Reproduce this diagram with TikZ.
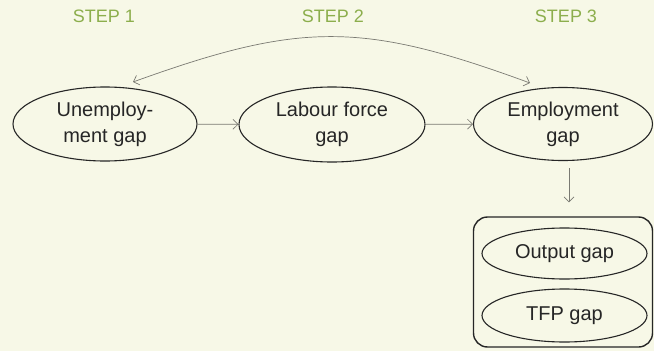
\documentclass[tikz,border=0pt]{standalone}
\usepackage{fontspec}
\setmainfont{Liberation Sans}
\usetikzlibrary{shapes.geometric,arrows.meta}
\definecolor{bgcream}{HTML}{F7F8E7}
\definecolor{stepgreen}{HTML}{8CAE4C}
\definecolor{textgrey}{HTML}{262626}
\definecolor{arrowgrey}{HTML}{7A7A72}
\begin{document}
\begin{tikzpicture}[x=1pt,y=-1pt,
    gapnode/.style={ellipse,draw=black!85,line width=1.1pt,inner sep=0pt,align=center,
      text=textgrey,font=\fontsize{20}{26}\selectfont},
    steplabel/.style={text=stepgreen,font=\fontsize{18}{20}\selectfont},
    link/.style={draw=arrowgrey,line width=0.7pt,-{Straight Barb[length=5pt,width=10pt]}}]
  \fill[bgcream] (0,0) rectangle (654,351);
  \useasboundingbox (0,0) rectangle (654,351);
  \draw
    (104,16.5) node[steplabel] (step1){STEP 1}
    (333,16.5) node[steplabel] (step2){STEP 2}
    (566,16.5) node[steplabel] (step3){STEP 3}
    (105,124) node[gapnode,minimum width=184pt,minimum height=74pt] (unemp){Unemploy-\\ment gap}
    (332,124.5) node[gapnode,minimum width=186pt,minimum height=75pt] (labour){Labour force\\gap}
    (563,124) node[gapnode,minimum width=179pt,minimum height=73pt] (emp){Employment\\gap}
    (563,282) node[draw=black!85,line width=1.4pt,rounded corners=14pt,
      minimum width=179pt,minimum height=130pt] (gapbox){}
    (564.5,253.5) node[gapnode,minimum width=165pt,minimum height=51pt] (outgap){Output gap}
    (564.5,315.5) node[gapnode,minimum width=165pt,minimum height=53pt] (tfpgap){TFP gap};
  \coordinate (arcl) at (133,82);
  \coordinate (arcr) at (530,83);
  \begin{scope}[link]
    \draw (unemp) to (labour);
    \draw (labour) to (emp);
    \draw[shorten <=7pt,shorten >=14pt] ([xshift=6pt]emp.south) to ([xshift=6pt]gapbox.north);
    \draw[{Straight Barb[length=5pt,width=10pt]}-{Straight Barb[length=5pt,width=10pt]}]
      (arcl) to[bend left=20,looseness=1.15] (arcr);
  \end{scope}
\end{tikzpicture}
\end{document}
